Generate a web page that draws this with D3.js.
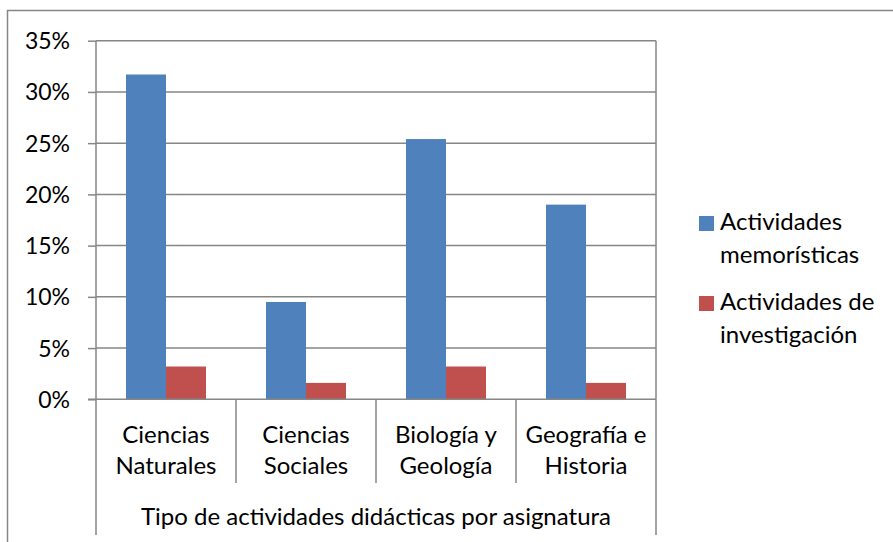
<!DOCTYPE html>
<html>
<head>
<meta charset="UTF-8">
<title>Tipo de actividades didácticas por asignatura</title>
<script src="https://d3js.org/d3.v7.min.js"></script>
<style>
    body { margin: 0; background: #fff; }
    text { font-family: Lato, "Open Sans", sans-serif; fill: #000; }
    .tick text { font-size: 23px; }
    .cat { font-size: 24px; text-anchor: middle; dominant-baseline: middle; }
    .leg { font-size: 24px; dominant-baseline: middle; }
</style>
</head>
<body>
<svg id="svg" width="893" height="542"></svg>
<script>
    // data
    var categories = [["Ciencias", "Naturales"], ["Ciencias", "Sociales"], ["Biología y", "Geología"], ["Geografía e", "Historia"]];
    var series = ["Actividades memorísticas", "Actividades de investigación"];
    var seriesLines = [["Actividades", "memorísticas"], ["Actividades de", "investigación"]];
    var memoristicas = [0.317, 0.095, 0.254, 0.190];
    var investigacion = [0.032, 0.016, 0.032, 0.016];
    var yTicks = [0, 0.05, 0.10, 0.15, 0.20, 0.25, 0.30, 0.35];
    var axisTitle = "Tipo de actividades didácticas por asignatura";
    var colors = ["#4F81BD", "#C0504D"];

    var svg = d3.select("#svg");
    var grid = "#868686";
    var plotL = 96, plotR = 656, plotT = 40.7, plotB = 399.3;

    // outer frame
    svg.append("path")
        .attr("d", "M7.5,542 V10.5 H893")
        .attr("fill", "none").attr("stroke", grid).attr("stroke-width", 1.5);

    var x = d3.scaleBand().domain(d3.range(categories.length)).range([plotL, plotR]);
    var xs = d3.scaleBand().domain(d3.range(series.length)).range([0, x.bandwidth()]).paddingOuter(0.75).paddingInner(0);
    var y = d3.scaleLinear().domain([0, 0.35]).range([plotB, plotT]);

    // gridlines
    svg.append("g").selectAll("line").data(yTicks.slice(1)).join("line")
        .attr("x1", plotL).attr("x2", plotR)
        .attr("y1", d => y(d)).attr("y2", d => y(d))
        .attr("stroke", grid).attr("stroke-width", 1.5);

    // right edge of plot
    svg.append("line").attr("x1", plotR).attr("x2", plotR).attr("y1", plotT).attr("y2", plotB)
        .attr("stroke", grid).attr("stroke-width", 1.5);

    // bars
    var values = [memoristicas, investigacion];
    values.forEach(function (vals, s) {
        svg.append("g").selectAll("rect").data(vals).join("rect")
            .attr("x", (d, i) => x(i) + xs(s))
            .attr("width", xs.bandwidth())
            .attr("y", d => y(d))
            .attr("height", d => y(0) - y(d))
            .attr("fill", colors[s]);
    });

    // y axis
    var yAxis = svg.append("g").attr("transform", "translate(" + plotL + ",0)")
        .call(d3.axisLeft(y).tickValues(yTicks).tickFormat(d3.format(".0%")).tickSize(8).tickPadding(18));
    yAxis.select(".domain").remove();
    yAxis.selectAll(".tick line").attr("stroke", grid).attr("stroke-width", 1.5);
    yAxis.selectAll(".tick text").attr("dy", "0.35em");
    svg.append("line").attr("x1", plotL).attr("x2", plotL).attr("y1", plotT).attr("y2", 535)
        .attr("stroke", grid).attr("stroke-width", 1.5);

    // x baseline
    svg.append("line").attr("x1", plotL - 8).attr("x2", plotR).attr("y1", plotB).attr("y2", plotB)
        .attr("stroke", grid).attr("stroke-width", 1.5);

    // category separators
    svg.append("g").selectAll("line").data(d3.range(1, categories.length + 1)).join("line")
        .attr("x1", d => d < categories.length ? x(d) : plotR)
        .attr("x2", d => d < categories.length ? x(d) : plotR)
        .attr("y1", plotB).attr("y2", d => d < categories.length ? 483 : 535)
        .attr("stroke", grid).attr("stroke-width", 1.5);

    // category labels
    var cats = svg.append("g").selectAll("text").data(categories).join("text")
        .attr("class", "cat");
    cats.each(function (d, i) {
        d3.select(this).selectAll("tspan").data(d).join("tspan")
            .attr("x", x(i) + x.bandwidth() / 2)
            .attr("y", (t, j) => 437 + j * 31)
            .text(t => t);
    });

    svg.append("text").attr("class", "cat")
        .attr("x", (plotL + plotR) / 2).attr("y", 519)
        .text(axisTitle);

    // legend
    var leg = svg.append("g").selectAll("g").data(series).join("g")
        .attr("transform", (d, i) => "translate(699," + (216 + i * 80) + ")");
    leg.append("rect").attr("width", 15).attr("height", 15).attr("fill", (d, i) => colors[i]);
    leg.each(function (d, i) {
        d3.select(this).append("text").attr("class", "leg")
            .selectAll("tspan").data(seriesLines[i]).join("tspan")
            .attr("x", 21).attr("y", (t, j) => 8 + j * 33)
            .text(t => t);
    });
</script>
</body>
</html>
